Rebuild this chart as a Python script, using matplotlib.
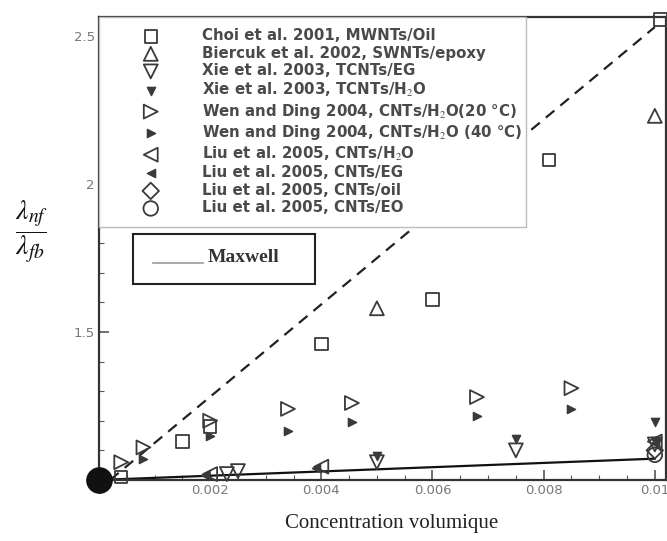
import matplotlib
matplotlib.use("Agg")
import matplotlib.pyplot as plt
from matplotlib.patches import Rectangle

#-----data-----#
choi_x = [0.0004, 0.0015, 0.002, 0.004, 0.006, 0.0081, 0.0101]
choi_y = [1.01, 1.13, 1.18, 1.46, 1.61, 2.08, 2.555]
biercuk_x = [0.005, 0.01]
biercuk_y = [1.58, 2.23]
xie_eg_x = [0.0023, 0.0025, 0.005, 0.0075, 0.01]
xie_eg_y = [1.02, 1.03, 1.06, 1.10, 1.12]
xie_h2o_x = [0.005, 0.0075, 0.01, 0.01]
xie_h2o_y = [1.08, 1.14, 1.195, 1.13]
wen20_x = [0.0004, 0.0008, 0.002, 0.0034, 0.00455, 0.0068, 0.0085]
wen20_y = [1.06, 1.11, 1.20, 1.24, 1.26, 1.28, 1.31]
wen40_x = [0.0008, 0.002, 0.0034, 0.00455, 0.0068, 0.0085]
wen40_y = [1.07, 1.15, 1.165, 1.195, 1.215, 1.24]
liu_h2o_x = [0.002, 0.004, 0.01]
liu_h2o_y = [1.02, 1.045, 1.13]
liu_eg_x = [0.0019, 0.0039, 0.01]
liu_eg_y = [1.017, 1.04, 1.125]
liu_oil_x = [0.01]
liu_oil_y = [1.10]
liu_eo_x = [0.01]
liu_eo_y = [1.085]
origin_x = [0.0]
origin_y = [1.0]
upper_x = [0.0002, 0.01]
upper_y = [1.0, 2.53]
maxwell_x = [0.0, 0.01]
maxwell_y = [1.0, 1.072]

labels = ["Choi et al. 2001, MWNTs/Oil",
          "Biercuk et al. 2002, SWNTs/epoxy",
          "Xie et al. 2003, TCNTs/EG",
          "Xie et al. 2003, TCNTs/H$_2$O",
          "Wen and Ding 2004, CNTs/H$_2$O(20 \u00b0C)",
          "Wen and Ding 2004, CNTs/H$_2$O (40 \u00b0C)",
          "Liu et al. 2005, CNTs/H$_2$O",
          "Liu et al. 2005, CNTs/EG",
          "Liu et al. 2005, CNTs/oil",
          "Liu et al. 2005, CNTs/EO"]
xticks = [0, 0.002, 0.004, 0.006, 0.008, 0.01]
xticklabels = ["0", "0.002", "0.004", "0.006", "0.008", "0.01"]
yticks = [1, 1.5, 2, 2.5]
yticklabels = ["1", "1.5", "2", "2.5"]
#-----data-----#

plt.rcParams["mathtext.fontset"] = "stix"
mc = "#3a3a3a"
fig = plt.figure(figsize=(6.67, 5.41), dpi=100)
ax = fig.add_axes([0.1484, 0.1128, 0.850, 0.8558])

ax.plot(upper_x, upper_y, color="#222222", lw=1.6, ls=(0, (5, 3.5)), zorder=2)
ax.plot(maxwell_x, maxwell_y, color="#111111", lw=1.6, zorder=2)

open_kw = dict(facecolor="none", edgecolors=mc, linewidths=1.3, zorder=3, clip_on=False)
fill_kw = dict(color=mc, zorder=3, clip_on=False)
h = []
h.append(ax.scatter(choi_x, choi_y, marker="s", s=80, **open_kw))
h.append(ax.scatter(biercuk_x, biercuk_y, marker="^", s=100, **open_kw))
h.append(ax.scatter(xie_eg_x, xie_eg_y, marker="v", s=100, **open_kw))
h.append(ax.scatter(xie_h2o_x, xie_h2o_y, marker="v", s=35, **fill_kw))
h.append(ax.scatter(wen20_x, wen20_y, marker=">", s=100, **open_kw))
h.append(ax.scatter(wen40_x, wen40_y, marker=">", s=35, **fill_kw))
h.append(ax.scatter(liu_h2o_x, liu_h2o_y, marker="<", s=100, **open_kw))
h.append(ax.scatter(liu_eg_x, liu_eg_y, marker="<", s=35, **fill_kw))
h.append(ax.scatter(liu_oil_x, liu_oil_y, marker="D", s=70, **open_kw))
h.append(ax.scatter(liu_eo_x, liu_eo_y, marker="o", s=110, **open_kw))
ax.scatter(origin_x, origin_y, marker="o", s=330, color="#111111", zorder=4, clip_on=False)

ax.set_xlim(0, 0.0102)
ax.set_ylim(1.0, 2.564)
ax.set_xticks(xticks)
ax.set_xticklabels(xticklabels)
ax.set_yticks(yticks)
ax.set_yticklabels(yticklabels)
ax.set_xticks([i * 0.0005 for i in range(21)], minor=True)
ax.set_yticks([1 + i * 0.1 for i in range(16)], minor=True)
ax.tick_params(which="both", direction="in", color="#555555", labelcolor="#777777",
               labelsize=9.5, pad=3)
ax.tick_params(which="major", length=7, width=1.2)
ax.tick_params(which="minor", length=3.5, width=0.8)
for s in ax.spines.values():
    s.set_color("#333333")
    s.set_linewidth(1.6)

leg = ax.legend(h, labels, loc="upper left", bbox_to_anchor=(0.0, 0.0, 0.753, 1.0),
                mode="expand", frameon=True, fancybox=False, framealpha=1.0,
                borderpad=0.75, labelspacing=0.17, handlelength=5.4, handletextpad=0.7,
                borderaxespad=0.0,
                prop={"family": "DejaVu Sans", "weight": "bold", "size": 10.8},
                labelcolor="#4a4a4a")
leg.get_frame().set_edgecolor("#bbbbbb")
leg.get_frame().set_linewidth(1.0)

# Maxwell key box
ax.add_patch(Rectangle((0.060, 0.4233), 0.321, 0.108, transform=ax.transAxes,
                       facecolor="white", edgecolor="#222222", lw=1.5, zorder=5))
ax.plot([0.0952, 0.1834], [0.4687, 0.4687], transform=ax.transAxes,
        color="#999999", lw=1.2, zorder=6)
ax.text(0.1922, 0.471, "Maxwell", transform=ax.transAxes, family="Liberation Serif",
        weight="bold", fontsize=14, color="#333333", va="baseline", ha="left", zorder=6)

fig.text(0.0465, 0.572, r"$\dfrac{\lambda_{nf}}{\lambda_{fb}}$", fontsize=20,
         ha="center", va="center", color="#111111")
fig.text(0.587, 0.015, "Concentration volumique", family="Liberation Serif",
         fontsize=15, ha="center", va="bottom", color="#222222")

fig.savefig("out.png", dpi=100)
